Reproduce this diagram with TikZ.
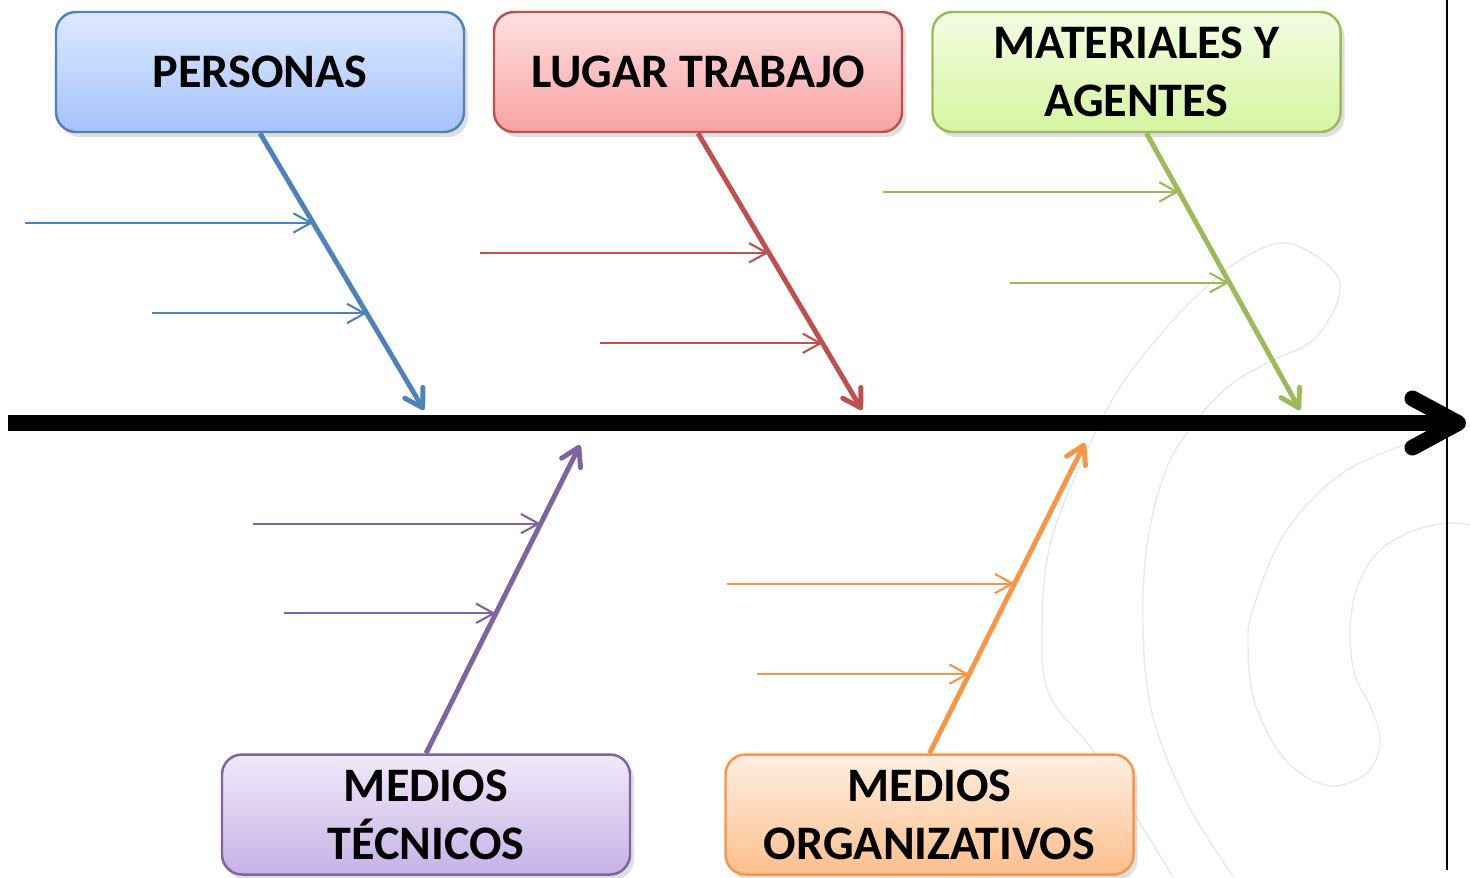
\documentclass[tikz,border=0pt]{standalone}
\usepackage{fontspec}
\setmainfont{Carlito}
\usetikzlibrary{arrows.meta,shadows,calc}
\definecolor{blueline}{HTML}{4F81BD}
\definecolor{bluetop}{HTML}{DDE9FF}
\definecolor{bluebot}{HTML}{A3C3FA}
\definecolor{redline}{HTML}{C0504D}
\definecolor{redtop}{HTML}{FFE0E0}
\definecolor{redbot}{HTML}{F7A2A2}
\definecolor{greenline}{HTML}{9BBB59}
\definecolor{greentop}{HTML}{F4FCE2}
\definecolor{greenbot}{HTML}{D5F5A0}
\definecolor{purpleline}{HTML}{8064A2}
\definecolor{purpletop}{HTML}{F0E9F9}
\definecolor{purplebot}{HTML}{C6B2E6}
\definecolor{orangeline}{HTML}{F79646}
\definecolor{orangetop}{HTML}{FFEFE1}
\definecolor{orangebot}{HTML}{FCBF8D}
\begin{document}
\begin{tikzpicture}
[boxdecorate/.style={shape=rectangle,rounded corners=0.2cm,line width=0.7pt,%
  minimum width=4.08cm,minimum height=1.2cm,align=center,%
  font=\bfseries\fontsize{13.7}{16.5}\selectfont,%
  drop shadow={shadow xshift=0.04cm,shadow yshift=-0.05cm,opacity=0.25}},%
  bonedecorate/.style={line width=1.4pt,-{Straight Barb[length=5pt,width=6pt,round]}},%
  subdecorate/.style={line width=0.6pt,-{Straight Barb[length=5pt,width=5.5pt]}},%
  watermark/.style={draw=black!9,line width=0.4pt}]
\useasboundingbox (0,0) rectangle (14.7,-8.77);
%%% faint background logo
\draw[watermark] plot[smooth,tension=0.6] coordinates {(11.73,-8.77) (11.00,-7.60)
  (10.50,-6.96) (10.42,-6.31) (10.50,-5.45) (10.83,-4.59) (11.20,-3.87) (11.67,-3.27)
  (12.00,-2.93) (12.40,-2.60) (12.87,-2.43) (13.33,-2.70) (13.38,-3.00) (13.13,-3.40)
  (12.73,-3.60) (12.33,-3.83) (12.00,-4.16) (11.67,-4.67) (11.47,-5.45) (11.43,-6.31)
  (11.53,-7.17) (11.87,-8.03) (12.33,-8.76)};
\draw[watermark] plot[smooth,tension=0.6] coordinates {(14.70,-4.25) (13.90,-4.50)
  (13.33,-4.80) (12.83,-5.36) (12.53,-6.09) (12.48,-6.44) (12.53,-6.96) (12.73,-7.43)
  (13.00,-7.73) (13.33,-7.86) (13.67,-7.73) (13.80,-7.43) (13.72,-7.10) (13.55,-6.75)
  (13.50,-6.31) (13.57,-5.88) (13.77,-5.53) (14.10,-5.32) (14.47,-5.23) (14.70,-5.25)};
%%% right border and main spine
\coordinate (bordertop) at (14.47,0);
\coordinate (borderbot) at (14.47,-8.70);
\draw[line width=0.7pt] (bordertop) -- (borderbot);
\coordinate (spinestart) at (0.08,-4.23);
\coordinate (spineend) at (14.66,-4.23);
\draw[line width=4.5pt,-{Straight Barb[length=13pt,width=14pt,round]}] (spinestart) -- (spineend);
%%% category boxes
\node (personas) at (2.60,-0.72) [boxdecorate,draw=blueline,top color=bluetop,bottom color=bluebot] {PERSONAS};
\node (lugar) at (6.98,-0.72) [boxdecorate,draw=redline,top color=redtop,bottom color=redbot] {LUGAR TRABAJO};
\node (materiales) at (11.365,-0.72) [boxdecorate,draw=greenline,top color=greentop,bottom color=greenbot] {MATERIALES Y\\AGENTES};
\node (tecnicos) at (4.26,-8.145) [boxdecorate,draw=purpleline,top color=purpletop,bottom color=purplebot] {MEDIOS\\TÉCNICOS};
\node (organizativos) at (9.295,-8.145) [boxdecorate,draw=orangeline,top color=orangetop,bottom color=orangebot] {MEDIOS\\ORGANIZATIVOS};
%%% bone ends on the spine
\coordinate (pe) at (4.24,-4.10);
\coordinate (re) at (8.62,-4.10);
\coordinate (gs) at ([xshift=0.1cm]materiales.south);
\coordinate (ge) at (13.00,-4.10);
\coordinate (te) at (5.80,-4.45);
\coordinate (oe) at (10.85,-4.43);
% bones
\path
(personas.south) edge[bonedecorate,blueline] (pe)
(lugar.south) edge[bonedecorate,redline] (re)
(gs) edge[bonedecorate,greenline] (ge)
(tecnicos.north) edge[bonedecorate,purpleline] (te)
(organizativos.north) edge[bonedecorate,orangeline] (oe);
%%% small causes
% points on the bones
\coordinate (p1) at ($(personas.south)!0.324!(pe)$);
\coordinate (p2) at ($(personas.south)!0.651!(pe)$);
\coordinate (r1) at ($(lugar.south)!0.432!(re)$);
\coordinate (r2) at ($(lugar.south)!0.759!(re)$);
\coordinate (g1) at ($(gs)!0.212!(ge)$);
\coordinate (g2) at ($(gs)!0.540!(ge)$);
\coordinate (t1) at ($(tecnicos.north)!0.745!(te)$);
\coordinate (t2) at ($(tecnicos.north)!0.454!(te)$);
\coordinate (o1) at ($(organizativos.north)!0.547!(oe)$);
\coordinate (o2) at ($(organizativos.north)!0.255!(oe)$);
% free ends
\coordinate (p1s) at ($(p1)+(-2.88,0)$);
\coordinate (p2s) at ($(p2)+(-2.15,0)$);
\coordinate (r1s) at ($(r1)+(-2.89,0)$);
\coordinate (r2s) at ($(r2)+(-2.22,0)$);
\coordinate (g1s) at ($(g1)+(-2.96,0)$);
\coordinate (g2s) at ($(g2)+(-2.19,0)$);
\coordinate (t1s) at ($(t1)+(-2.88,0)$);
\coordinate (t2s) at ($(t2)+(-2.12,0)$);
\coordinate (o1s) at ($(o1)+(-2.88,0)$);
\coordinate (o2s) at ($(o2)+(-2.12,0)$);
\path
(p1s) edge[subdecorate,blueline] (p1)
(p2s) edge[subdecorate,blueline] (p2)
(r1s) edge[subdecorate,redline] (r1)
(r2s) edge[subdecorate,redline] (r2)
(g1s) edge[subdecorate,greenline] (g1)
(g2s) edge[subdecorate,greenline] (g2)
(t1s) edge[subdecorate,purpleline] (t1)
(t2s) edge[subdecorate,purpleline] (t2)
(o1s) edge[subdecorate,orangeline] (o1)
(o2s) edge[subdecorate,orangeline] (o2);
\end{tikzpicture}
\end{document}
